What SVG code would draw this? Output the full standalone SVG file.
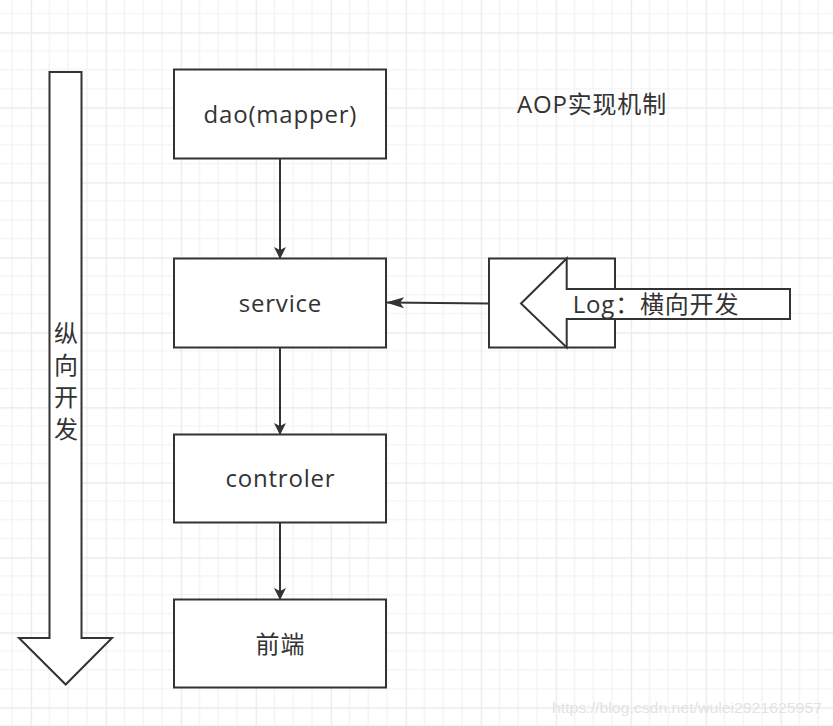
<svg xmlns="http://www.w3.org/2000/svg" width="833" height="726" viewBox="0 0 833 726">
<style>
.box{fill:#fff;stroke:#333;stroke-width:2}
.shape{fill:#fff;stroke:#333;stroke-width:2;stroke-linejoin:miter}
.lbl{font-family:"Open Sans","Noto Sans CJK SC",sans-serif;font-size:24px;letter-spacing:0.8px;fill:#333;text-anchor:middle}
.edge{stroke:#333;stroke-width:2;fill:none}
</style>
<defs>
<pattern id="grid" patternUnits="userSpaceOnUse" x="30.7" y="32.3" width="75" height="75">
<path d="M18.75 0V75M37.5 0V75M56.25 0V75M0 18.75H75M0 37.5H75M0 56.25H75" stroke="#f1f1f1" stroke-width="1.2" fill="none"/>
<path d="M0.5 0V75M0 0.5H75" stroke="#e8e8e8" stroke-width="1.4" fill="none"/>
</pattern>
<marker id="ah" markerWidth="12" markerHeight="12" viewBox="0 0 12 12" refX="11" refY="6" orient="auto" markerUnits="userSpaceOnUse">
<path d="M0 0L12 6L0 12L3 6Z" fill="#333"/>
</marker>
<marker id="ahw" markerWidth="18" markerHeight="12" viewBox="0 0 18 12" refX="17" refY="6" orient="auto" markerUnits="userSpaceOnUse">
<path d="M0 0.5L18 6L0 11.5L4 6Z" fill="#333"/>
</marker>
</defs>
<rect width="833" height="726" fill="#fff"/>
<rect width="833" height="726" fill="url(#grid)"/>

<g id="connectors">
<line class="edge" x1="280" y1="158" x2="280" y2="258" marker-end="url(#ah)"/>
<line class="edge" x1="280" y1="347" x2="280" y2="434" marker-end="url(#ah)"/>
<line class="edge" x1="280" y1="522" x2="280" y2="599" marker-end="url(#ah)"/>
<line class="edge" x1="489" y1="303.5" x2="387" y2="302.5" marker-end="url(#ahw)"/>
</g>

<g id="vertical-arrow">
<path class="shape" d="M49.5 72H81.5V638H112L65.7 684.5L19 638H49.5Z"/>
<text class="lbl" x="66.4" y="342">纵</text>
<text class="lbl" x="66.4" y="374">向</text>
<text class="lbl" x="66.4" y="406">开</text>
<text class="lbl" x="66.4" y="438">发</text>
</g>

<g id="dao">
<rect class="box" x="174" y="69.5" width="212" height="89"/>
<text class="lbl" x="280.4" y="122.5">dao(mapper)</text>
</g>

<g id="service">
<rect class="box" x="174" y="258.5" width="212" height="89"/>
<text class="lbl" x="280.4" y="311.5">service</text>
</g>

<g id="controler">
<rect class="box" x="174" y="434.5" width="212" height="88"/>
<text class="lbl" x="280.4" y="487">controler</text>
</g>

<g id="frontend">
<rect class="box" x="174" y="599.5" width="212" height="88"/>
<text class="lbl" x="280.4" y="652.5">前端</text>
</g>

<g id="title">
<text class="lbl" x="592" y="112.5">AOP实现机制</text>
</g>

<g id="log">
<rect class="box" x="489" y="258.5" width="126" height="89"/>
<path class="shape" d="M521 303.5L566.7 258.5V289H790V319H566.7V347.5Z"/>
<text class="lbl" x="656" y="313">Log：横向开发</text>
</g>

<text x="552" y="713" font-family="Liberation Sans, Arial, sans-serif" font-size="15" fill="#e3e3e3" textLength="270" lengthAdjust="spacingAndGlyphs">https://blog.csdn.net/wulei2921625957</text>
</svg>
